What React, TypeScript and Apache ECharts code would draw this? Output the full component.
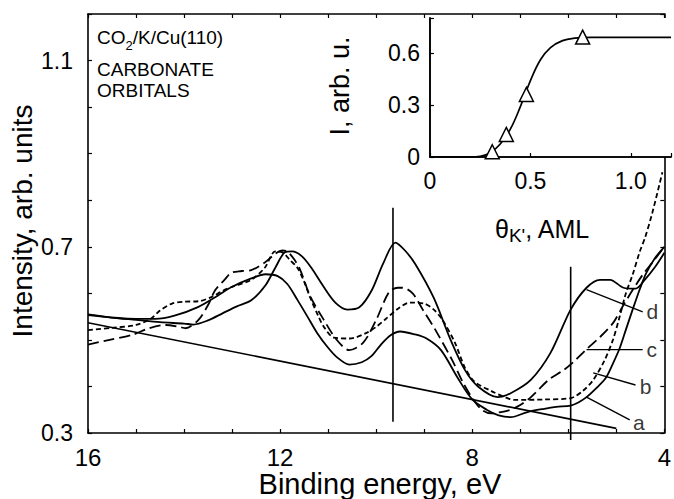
import React, { useEffect, useRef } from "react";
import * as echarts from "echarts";

const FONT = "'Liberation Sans', Arial, Helvetica, sans-serif";

// Main panel: binding energy (eV) vs intensity (arb. units)
const curveA: number[][] = [
  [16.0, 0.553], [15.5, 0.548], [15.0, 0.545], [14.6, 0.545], [14.2, 0.552], [13.7, 0.571],
  [13.3, 0.595], [13.0, 0.614], [12.6, 0.632], [12.3, 0.641], [12.05, 0.637], [11.85, 0.62],
  [11.64, 0.586], [11.43, 0.55], [11.23, 0.515], [11.0, 0.483], [10.82, 0.463], [10.56, 0.447],
  [10.3, 0.452], [10.1, 0.465], [9.9, 0.49], [9.7, 0.51], [9.5, 0.518], [9.2, 0.512], [8.95, 0.503],
  [8.65, 0.478], [8.3, 0.418], [8.0, 0.372], [7.7, 0.35], [7.45, 0.338], [7.2, 0.334], [6.85, 0.345],
  [6.5, 0.352], [6.25, 0.356], [5.95, 0.359], [5.8, 0.365], [5.62, 0.377], [5.4, 0.398], [5.22, 0.418],
  [5.08, 0.447], [4.93, 0.482], [4.8, 0.522], [4.66, 0.565], [4.5, 0.612], [4.38, 0.643], [4.2, 0.675],
  [4.0, 0.7],
];
const curveB: number[][] = [
  [16.0, 0.521], [15.5, 0.526], [15.0, 0.532], [14.7, 0.545], [14.5, 0.563], [14.25, 0.578],
  [14.0, 0.582], [13.7, 0.583], [13.43, 0.592], [13.2, 0.605], [13.0, 0.614], [12.6, 0.629],
  [12.32, 0.655], [12.1, 0.69], [11.95, 0.688], [11.8, 0.672], [11.64, 0.655], [11.5, 0.625],
  [11.37, 0.59], [11.2, 0.55], [11.09, 0.528], [10.88, 0.505], [10.55, 0.503], [10.2, 0.515],
  [10.0, 0.528], [9.8, 0.545], [9.53, 0.568], [9.3, 0.58], [9.0, 0.578], [8.8, 0.565], [8.62, 0.543],
  [8.36, 0.494], [8.15, 0.44], [7.95, 0.41], [7.6, 0.39], [7.3, 0.376], [7.12, 0.371], [6.5, 0.372],
  [5.95, 0.375], [5.7, 0.39], [5.48, 0.414], [5.25, 0.455], [5.07, 0.5], [4.93, 0.55], [4.8, 0.6],
  [4.66, 0.64], [4.51, 0.69], [4.4, 0.72], [4.25, 0.773], [4.04, 0.86],
];
const curveC: number[][] = [
  [16.0, 0.49], [15.55, 0.5], [15.07, 0.511], [14.73, 0.525], [14.38, 0.532], [14.1, 0.528],
  [13.97, 0.525], [13.7, 0.543], [13.5, 0.575], [13.35, 0.607], [13.15, 0.63], [13.02, 0.644],
  [12.8, 0.648], [12.6, 0.65], [12.32, 0.666], [12.1, 0.685], [11.95, 0.692], [11.85, 0.69],
  [11.7, 0.672], [11.58, 0.65], [11.37, 0.593], [11.09, 0.543], [10.82, 0.5], [10.56, 0.478],
  [10.27, 0.494], [10.0, 0.543], [9.73, 0.603], [9.55, 0.612], [9.45, 0.612], [9.24, 0.6],
  [9.03, 0.565], [8.77, 0.522], [8.42, 0.457], [8.2, 0.41], [8.0, 0.375], [7.8, 0.35], [7.6, 0.342],
  [7.4, 0.345], [7.2, 0.35], [7.0, 0.36], [6.8, 0.375], [6.65, 0.39], [6.4, 0.415], [6.1, 0.435],
  [5.9, 0.452], [5.62, 0.48], [5.34, 0.506], [5.07, 0.536], [4.85, 0.575], [4.66, 0.607],
  [4.45, 0.64], [4.25, 0.666], [4.0, 0.7],
];
const curveD: number[][] = [
  [16.0, 0.555], [15.5, 0.548], [15.0, 0.543], [14.5, 0.538], [14.0, 0.535], [13.8, 0.533],
  [13.5, 0.542], [13.2, 0.557], [12.9, 0.572], [12.6, 0.585], [12.3, 0.618], [12.1, 0.655],
  [11.9, 0.688], [11.75, 0.69], [11.55, 0.68], [11.35, 0.655], [11.1, 0.615], [10.85, 0.58],
  [10.6, 0.565], [10.35, 0.57], [10.1, 0.605], [9.85, 0.665], [9.6, 0.709], [9.4, 0.692],
  [9.18, 0.662], [8.8, 0.59], [8.45, 0.5], [8.15, 0.435], [7.88, 0.4], [7.47, 0.377], [7.19, 0.386],
  [6.78, 0.414], [6.37, 0.472], [5.95, 0.565], [5.62, 0.612], [5.34, 0.629], [5.13, 0.629],
  [4.85, 0.612], [4.6, 0.61], [4.4, 0.63], [4.19, 0.657], [4.0, 0.687],
];
const baseline: number[][] = [[16.0, 0.537], [5.0, 0.31]];
const markerLine1: number[][] = [[9.65, 0.784], [9.65, 0.324]];
const markerLine2: number[][] = [[5.95, 0.657], [5.95, 0.285]];

// leader lines and curve labels
const curveNames = ["a", "b", "c", "d"];
const leaderA: number[][] = [[5.62, 0.377], [4.72, 0.328]];
const leaderB: number[][] = [[5.48, 0.429], [4.6, 0.403]];
const leaderC: number[][] = [[5.62, 0.479], [4.45, 0.479]];
const leaderD: number[][] = [[5.62, 0.608], [4.45, 0.56]];
const labelPositions: number[][] = [[4.64, 0.322], [4.5, 0.398], [4.36, 0.479], [4.36, 0.56]];

// tick labels
const mainXLabels = [16, 12, 8, 4];
const mainYLabels = [0.3, 0.7, 1.1];
const insetXLabels = [0, 0.5, 1.0];
const insetYLabels = [0, 0.3, 0.6];

// Inset: coverage (AML) vs intensity
const insetCurve: number[][] = [
  [0, 0], [0.2, 0], [0.25, 0.004], [0.3, 0.025], [0.35, 0.075], [0.4, 0.16], [0.45, 0.29],
  [0.5, 0.44], [0.55, 0.56], [0.6, 0.63], [0.66, 0.67], [0.72, 0.684], [0.8, 0.688], [1.2, 0.688],
];
const insetPoints: number[][] = [[0.31, 0.03], [0.38, 0.13], [0.48, 0.36], [0.76, 0.69]];

const has = (list: number[], v: number) => list.some((x) => Math.abs(x - v) < 1e-6);

const black = "#000";
const lineW = 1.8;

function lineSeries(data: number[][], type: any = "solid", width = lineW, extra: any = {}) {
  return {
    type: "line",
    data,
    xAxisIndex: 0,
    yAxisIndex: 0,
    symbol: "none",
    smooth: 0.3,
    lineStyle: { color: black, width, type },
    z: 3,
    ...extra,
  };
}

export default function App() {
  const ref = useRef<HTMLDivElement>(null);
  useEffect(() => {
    const chart = echarts.init(ref.current!, null, { renderer: "svg" });
    const axisLine = { show: true, lineStyle: { color: black, width: 1.6 } };
    const tick = { show: true, inside: true, length: 4, lineStyle: { color: black, width: 1.2 } };
    const option: any = {
      animation: false,
      backgroundColor: "#fff",
      textStyle: { fontFamily: FONT, color: black },
      grid: [
        { left: 88, top: 14, width: 584, height: 419 },
        { left: 430, top: 18, width: 243, height: 139, show: true, backgroundColor: "#fff", borderWidth: 0, z: 5 },
      ],
      xAxis: [
        {
          type: "value", gridIndex: 0, min: 4, max: 16, interval: 1, inverse: true, position: "bottom",
          axisLine, axisTick: tick, splitLine: { show: false },
          axisLabel: {
            margin: 12, fontSize: 24, color: black, fontFamily: FONT,
            formatter: (v: number) => (has(mainXLabels, v) ? String(v) : ""),
          },
        },
        {
          type: "value", gridIndex: 0, min: 4, max: 16, interval: 1, inverse: true, position: "top",
          axisLine, axisTick: tick, splitLine: { show: false }, axisLabel: { show: false },
        },
        {
          type: "value", gridIndex: 1, min: 0, max: 1.2, interval: 0.5, position: "bottom",
          axisLine, axisTick: tick, splitLine: { show: false }, z: 6,
          axisLabel: {
            margin: 12, fontSize: 23, color: black, fontFamily: FONT,
            formatter: (v: number) => (has(insetXLabels, v) ? (v === 0 ? "0" : v.toFixed(1)) : ""),
          },
        },
        {
          type: "value", gridIndex: 1, min: 0, max: 1.2, interval: 0.5, position: "top",
          axisLine, axisTick: { show: false }, splitLine: { show: false }, axisLabel: { show: false }, z: 6,
        },
      ],
      yAxis: [
        {
          type: "value", gridIndex: 0, min: 0.3, max: 1.2, interval: 0.1, position: "left",
          axisLine, axisTick: tick, splitLine: { show: false },
          axisLabel: {
            margin: 15, fontSize: 23, color: black, fontFamily: FONT,
            formatter: (v: number) => (has(mainYLabels, v) ? v.toFixed(1) : ""),
          },
        },
        {
          type: "value", gridIndex: 0, min: 0.3, max: 1.2, interval: 0.1, position: "right",
          axisLine, axisTick: tick, splitLine: { show: false }, axisLabel: { show: false },
        },
        {
          type: "value", gridIndex: 1, min: 0, max: 0.8, interval: 0.3, position: "left",
          axisLine, axisTick: tick, splitLine: { show: false }, z: 6,
          axisLabel: {
            margin: 10, fontSize: 23, color: black, fontFamily: FONT,
            formatter: (v: number) => (has(insetYLabels, v) ? (v === 0 ? "0" : v.toFixed(1)) : ""),
          },
        },
        {
          type: "value", gridIndex: 1, min: 0, max: 0.8, interval: 0.3, position: "right",
          axisLine, axisTick: { show: false }, splitLine: { show: false }, axisLabel: { show: false }, z: 6,
        },
      ],
      series: [
        lineSeries(baseline, "solid", 1.6, { smooth: false }),
        lineSeries(curveA, "solid"),
        lineSeries(curveB, [5, 3]),
        lineSeries(curveC, [11, 5]),
        lineSeries(curveD, "solid"),
        lineSeries(markerLine1, "solid", 1.6, { smooth: false }),
        lineSeries(markerLine2, "solid", 1.6, { smooth: false, clip: false }),
        lineSeries(leaderA, "solid", 1.4, { smooth: false }),
        lineSeries(leaderB, "solid", 1.4, { smooth: false }),
        lineSeries(leaderC, "solid", 1.4, { smooth: false }),
        lineSeries(leaderD, "solid", 1.4, { smooth: false }),
        {
          type: "scatter",
          xAxisIndex: 0,
          yAxisIndex: 0,
          symbolSize: 1,
          itemStyle: { color: "rgba(0,0,0,0)" },
          data: labelPositions.map((p, i) => ({ value: p, name: curveNames[i] })),
          label: {
            show: true, position: [0, 0], align: "left", verticalAlign: "middle",
            formatter: (p: any) => p.name, fontSize: 21, color: black, fontFamily: FONT,
          },
          z: 4,
        },
        {
          type: "line",
          xAxisIndex: 2,
          yAxisIndex: 2,
          data: insetCurve,
          symbol: "none",
          smooth: 0.4,
          lineStyle: { color: black, width: 1.7 },
          z: 7,
        },
        {
          type: "scatter",
          xAxisIndex: 2,
          yAxisIndex: 2,
          data: insetPoints,
          symbol: "triangle",
          symbolSize: 14,
          itemStyle: { color: "#fff", borderColor: black, borderWidth: 1.5, opacity: 1 },
          z: 8,
        },
      ],
      graphic: [
        {
          type: "text", left: 97, top: 28, z: 10,
          style: {
            text: "{m|CO}{s|2}{m|/K/Cu(110)}",
            fill: black,
            rich: {
              m: { fontSize: 19, lineHeight: 28, fontFamily: FONT, fill: black },
              s: { fontSize: 13, lineHeight: 12, verticalAlign: "bottom", fontFamily: FONT, fill: black },
            },
          },
        },
        {
          type: "text", left: 97, top: 59, z: 10,
          style: { text: "CARBONATE\nORBITALS", fontSize: 19, lineHeight: 21, fontFamily: FONT, fill: black },
        },
        {
          type: "text", left: 495, top: 216, z: 10,
          style: {
            text: "{m|θ}{s|K'}{m|, AML}",
            fill: black,
            rich: {
              m: { fontSize: 25, lineHeight: 32, fontFamily: FONT, fill: black },
              s: { fontSize: 19, lineHeight: 17, verticalAlign: "bottom", fontFamily: FONT, fill: black },
            },
          },
        },
        {
          type: "text", x: 22, y: 221, rotation: Math.PI / 2, z: 10,
          style: {
            text: "Intensity, arb. units", fontSize: 28, fontFamily: FONT, fill: black,
            align: "center", verticalAlign: "middle",
          },
        },
        {
          type: "text", x: 340, y: 86, rotation: Math.PI / 2, z: 10,
          style: {
            text: "I, arb. u.", fontSize: 27, fontFamily: FONT, fill: black,
            align: "center", verticalAlign: "middle",
          },
        },
        {
          type: "text", x: 380, y: 484, z: 10,
          style: {
            text: "Binding energy, eV", fontSize: 29, fontFamily: FONT, fill: black,
            align: "center", verticalAlign: "middle",
          },
        },
      ],
    };
    chart.setOption(option);
    return () => chart.dispose();
  }, []);
  return (
    <div
      ref={ref}
      style={{ position: "fixed", left: 0, top: 0, width: 674, height: 499, background: "#fff" }}
    />
  );
}
